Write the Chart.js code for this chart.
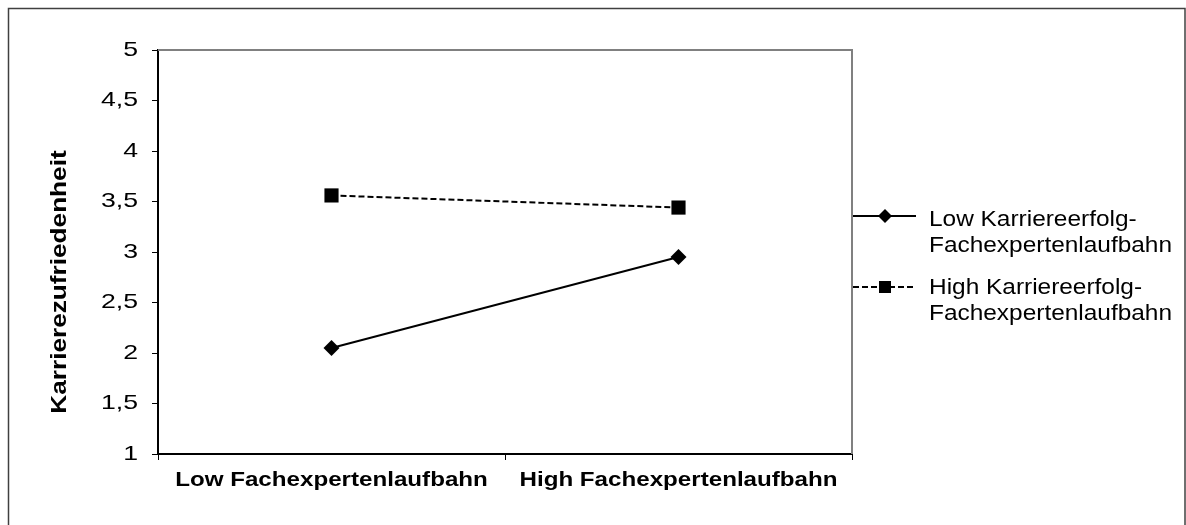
<!DOCTYPE html>
<html>
<head>
<meta charset="utf-8">
<script src="https://cdn.jsdelivr.net/npm/chart.js@4.4.0/dist/chart.umd.min.js"></script>
<style>
  html, body { margin: 0; padding: 0; background: #ffffff; }
  #wrap { position: relative; width: 1186px; height: 525px; }
</style>
</head>
<body>
<div id="wrap"><canvas id="c" width="1186" height="525"></canvas></div>
<script>
const categories = ["Low Fachexpertenlaufbahn", "High Fachexpertenlaufbahn"];
const lowSeries = [2.05, 2.95];
const highSeries = [3.56, 3.44];
const lowLabel = ["Low Karriereerfolg-", "Fachexpertenlaufbahn"];
const highLabel = ["High Karriereerfolg-", "Fachexpertenlaufbahn"];
const yTitle = "Karrierezufriedenheit";
const yMin = 1, yMax = 5, yStep = 0.5;

const FONT = "'Liberation Sans', Arial, sans-serif";

// The reference text is wider than Liberation Sans at the same height:
// stretch glyphs along the baseline per font role.
function stretchFor(font) {
  const m = /([\d.]+)px/.exec(font || '');
  const size = m ? parseFloat(m[1]) : 0;
  const bold = /bold|700/.test(font || '');
  if (!bold && size === 21) return 1.27;   // y tick labels
  if (bold && size === 21) return 1.15;    // x tick labels
  if (bold && size === 22) return 1.19;    // y title
  if (!bold && size === 22) return 1.11;   // legend
  return 1;
}

const canvas = document.getElementById('c');
const ctx2d = canvas.getContext('2d');
const origFill = ctx2d.fillText.bind(ctx2d);
const origMeasure = ctx2d.measureText.bind(ctx2d);
ctx2d.fillText = function (text, x, y, maxWidth) {
  const s = stretchFor(this.font);
  if (s === 1) {
    return maxWidth === undefined ? origFill(text, x, y) : origFill(text, x, y, maxWidth);
  }
  this.save();
  this.translate(x, y);
  this.scale(s, 1);
  origFill(text, 0, 0);
  this.restore();
};
ctx2d.measureText = function (text) {
  const m = origMeasure(text);
  const s = stretchFor(this.font);
  if (s === 1) return m;
  return {
    width: m.width * s,
    actualBoundingBoxLeft: m.actualBoundingBoxLeft * s,
    actualBoundingBoxRight: m.actualBoundingBoxRight * s,
    actualBoundingBoxAscent: m.actualBoundingBoxAscent,
    actualBoundingBoxDescent: m.actualBoundingBoxDescent,
    fontBoundingBoxAscent: m.fontBoundingBoxAscent,
    fontBoundingBoxDescent: m.fontBoundingBoxDescent
  };
};

const framePlugin = {
  id: 'frame',
  beforeDraw(chart) {
    const ctx = chart.ctx;
    ctx.save();
    ctx.fillStyle = '#ffffff';
    ctx.fillRect(0, 0, chart.width, chart.height);
    ctx.restore();
  },
  afterDraw(chart) {
    const ctx = chart.ctx;
    const a = chart.chartArea;
    ctx.save();
    // outer frame
    ctx.strokeStyle = '#404040';
    ctx.lineWidth = 1.5;
    ctx.strokeRect(8.5, 8.5, chart.width - 9.5, chart.height + 10);
    // plot area top/right border
    ctx.strokeStyle = '#808080';
    ctx.lineWidth = 2;
    ctx.beginPath();
    ctx.moveTo(a.left, a.top);
    ctx.lineTo(a.right, a.top);
    ctx.lineTo(a.right, a.bottom);
    ctx.stroke();
    ctx.restore();

    // y axis title
    ctx.save();
    ctx.font = "bold 22px " + FONT;
    ctx.fillStyle = '#000';
    ctx.textAlign = 'center';
    ctx.textBaseline = 'middle';
    ctx.translate(60, 282);
    ctx.rotate(-Math.PI / 2);
    ctx.fillText(yTitle, 0, 0);
    ctx.restore();

    // custom legend
    const items = chart.data.datasets;
    const x0 = a.right + 1, x1 = 916, tx = 929;
    const markY = [216, 287];
    const textY = [220, 288];
    ctx.save();
    ctx.font = "22px " + FONT;
    ctx.textBaseline = 'middle';
    ctx.textAlign = 'left';
    items.forEach((ds, i) => {
      const y = markY[i];
      ctx.strokeStyle = ds.borderColor;
      ctx.lineWidth = ds.borderWidth;
      ctx.setLineDash(ds.borderDash || []);
      ctx.beginPath();
      ctx.moveTo(x0, y);
      ctx.lineTo(x1, y);
      ctx.stroke();
      ctx.setLineDash([]);
      const cx = 885;
      ctx.fillStyle = '#000';
      if (ds.pointStyle === 'rect') {
        ctx.fillRect(cx - 6, y - 6, 12, 12);
      } else {
        ctx.beginPath();
        ctx.moveTo(cx, y - 7);
        ctx.lineTo(cx + 7, y);
        ctx.lineTo(cx, y + 7);
        ctx.lineTo(cx - 7, y);
        ctx.closePath();
        ctx.fill();
      }
      ds.label.forEach((t, k) => {
        ctx.fillText(t, tx, textY[i] + k * 26);
      });
    });
    ctx.restore();
  }
};

new Chart(canvas, {
  type: 'line',
  data: {
    labels: categories,
    datasets: [
      {
        label: lowLabel,
        data: lowSeries,
        borderColor: '#000',
        backgroundColor: '#000',
        borderWidth: 2,
        pointStyle: 'rectRot',
        pointRadius: 8,
        pointHoverRadius: 8,
        pointBorderWidth: 0,
        tension: 0
      },
      {
        label: highLabel,
        data: highSeries,
        borderColor: '#000',
        backgroundColor: '#000',
        borderWidth: 2,
        borderDash: [6, 3],
        pointStyle: 'rect',
        pointRadius: 10,
        pointHoverRadius: 10,
        pointBorderWidth: 0,
        tension: 0
      }
    ]
  },
  options: {
    responsive: false,
    animation: false,
    layout: { padding: { left: 48, top: 50, right: 334, bottom: 10 } },
    plugins: {
      legend: { display: false },
      tooltip: { enabled: false }
    },
    scales: {
      x: {
        type: 'category',
        offset: true,
        grid: {
          offset: true,
          drawOnChartArea: false,
          drawTicks: true,
          tickLength: 6,
          color: '#000'
        },
        border: { color: '#000', width: 2 },
        ticks: {
          color: '#000',
          font: { family: FONT, size: 21, weight: 'bold' },
          padding: 8,
          maxRotation: 0,
          autoSkip: false
        },
        afterFit(scale) { scale.height = 61; }
      },
      y: {
        min: yMin,
        max: yMax,
        grid: {
          drawOnChartArea: false,
          drawTicks: true,
          tickLength: 6,
          color: '#000'
        },
        border: { color: '#000', width: 2 },
        ticks: {
          stepSize: yStep,
          color: '#000',
          font: { family: FONT, size: 21 },
          padding: 14,
          callback: (v) => String(v).replace('.', ',')
        },
        title: { display: false },
        afterFit(scale) { scale.width = 110; }
      }
    }
  },
  plugins: [framePlugin]
});
</script>
</body>
</html>
